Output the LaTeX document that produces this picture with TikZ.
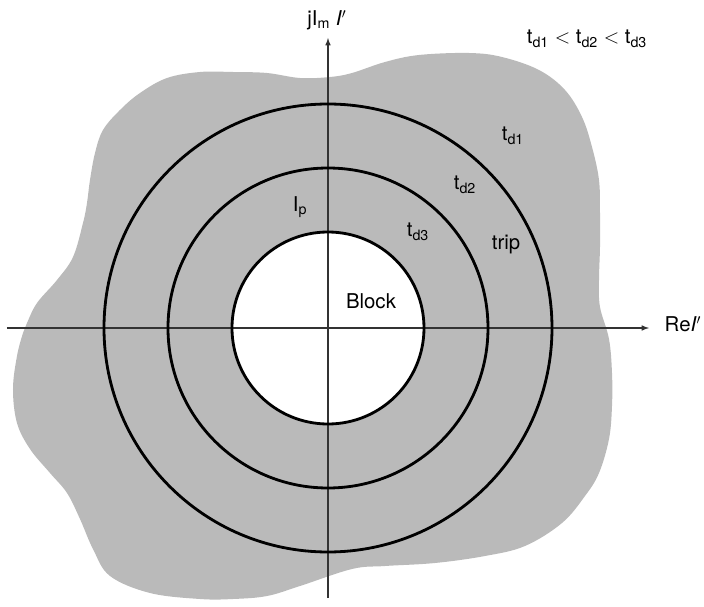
\documentclass[tikz,border=0pt]{standalone}
\usepackage{fontspec}
\setmainfont{TeX Gyre Heros}
\begin{document}
\begin{tikzpicture}[x=0.025cm, y=0.025cm, >=latex, font=\fontsize{14.5}{17}\selectfont]

    \colorlet{zoneGray}{black!27}   % tripping zone
    \colorlet{axisInk}{black!80}

  \useasboundingbox (-328,-278) rectangle (376,328);

  % shaded operating zone
  \fill[zoneGray] plot[smooth cycle, tension=0.6] coordinates {
    (-301,5) (-291,25) (-271,48) (-255,71) (-245,105) (-241,125) (-238,148)
    (-233,175) (-225,198) (-208,218) (-188,235) (-161,250) (-128,256) (-95,256)
    (-61,255) (-28,250) (2,251) (24,255) (57,266) (91,273) (141,275) (174,271)
    (211,258) (237,238) (254,211) (264,181) (271,148) (272,115) (272,81)
    (271,48) (272,21) (281,-11) (284,-45) (284,-78) (281,-111) (271,-145)
    (257,-168) (234,-195) (197,-218) (157,-228) (107,-235) (57,-238) (24,-241)
    (-28,-258) (-61,-268) (-95,-271) (-128,-271) (-178,-265) (-218,-248)
    (-235,-221) (-248,-191) (-261,-165) (-278,-145) (-298,-121) (-311,-95)
    (-315,-61) (-311,-28) (-305,-5)};

  % blocking zone
  \fill[white] (0,0) circle (96);

  % axes
  \coordinate (xl) at (-321,0);
  \coordinate (xr) at (321,0);
  \coordinate (yb) at (0,-270);
  \coordinate (yt) at (0,290);
  \draw[axisInk, line width=0.8pt, ->] (xl) -- (xr);
  \draw[axisInk, line width=0.8pt, ->] (yb) -- (yt);
  \node (re) at (355,4) {Re\textit{I}$'$};
  \node (im) at (-1,308) {jI\textsubscript{m} \textit{I}$'$};

  % time-delay circles
  \foreach \r in {96,160,224}
  \draw[line width=2pt] (0,0) circle (\r);

  % labels
  \node (ord) at (259,289) {t\textsubscript{d1} $<$ t\textsubscript{d2} $<$ t\textsubscript{d3}};
  \node (td1) at (185,192) {t\textsubscript{d1}};
  \node (td2) at (137,143) {t\textsubscript{d2}};
  \node (td3) at (90,96) {t\textsubscript{d3}};
  \node (trip) at (178,83) {trip};
  \node (ip) at (-28,121) {I\textsubscript{p}};
  \node (blk) at (43,27) {Block};

  \end{tikzpicture}
\end{document}
